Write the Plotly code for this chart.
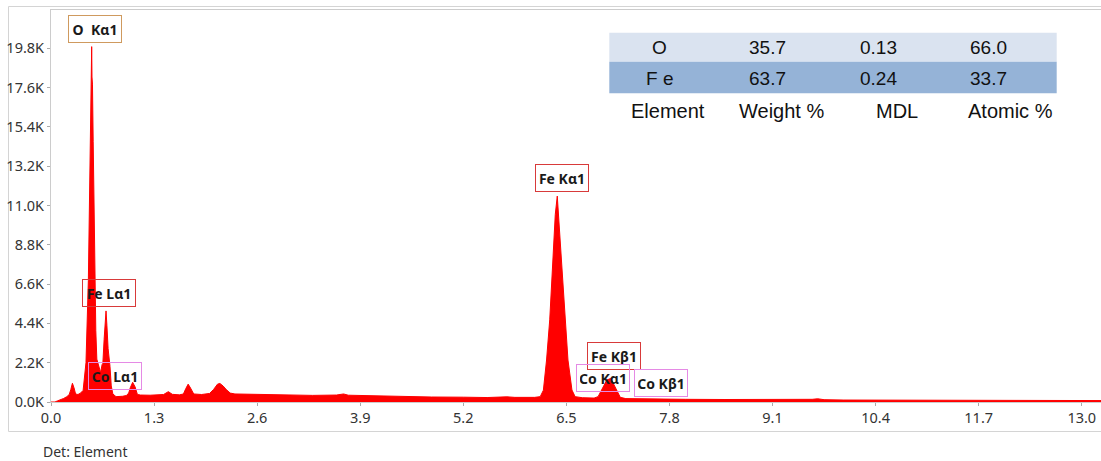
import plotly.graph_objects as go

# ---------------- data ----------------
energy_kev = [0.00, 0.05, 0.08, 0.12, 0.16, 0.20, 0.23, 0.25, 0.27, 0.29, 0.31, 0.34, 0.37,
              0.405, 0.441, 0.471, 0.481, 0.494, 0.503, 0.509, 0.513, 0.517, 0.523, 0.532, 0.545, 0.555,
              0.565, 0.578, 0.60, 0.625, 0.645, 0.652, 0.67, 0.685, 0.694, 0.705, 0.72, 0.744,
              0.76, 0.78, 0.82, 0.90, 0.95, 0.98, 1.00, 1.03, 1.06, 1.09, 1.13, 1.25, 1.37,
              1.42, 1.48, 1.53, 1.62, 1.67, 1.70, 1.73, 1.76, 1.80, 1.90, 2.00, 2.05, 2.10,
              2.13, 2.17, 2.21, 2.26, 2.32, 2.50, 2.80, 3.00, 3.30, 3.60, 3.69, 3.75, 4.00,
              4.40, 4.80, 5.20, 5.50, 5.75, 5.85, 6.10, 6.17, 6.21, 6.25, 6.29, 6.33, 6.36,
              6.385, 6.41, 6.44, 6.48, 6.52, 6.57, 6.61, 6.70, 6.85, 6.90, 6.965, 7.01, 7.06,
              7.11, 7.18, 7.25, 7.50, 8.00, 8.50, 9.00, 9.50, 9.60, 9.67, 9.75, 10.00, 11.00,
              12.00, 13.00, 13.30]
counts = [0, 0, 60, 120, 200, 300, 420, 700, 1050, 800, 450, 420, 490,
          650, 2200, 6800, 10200, 14600, 17800, 18200, 19900, 18200, 17800, 14600, 10200, 6800,
          4000, 2400, 2000, 1650, 2100, 2000, 3500, 4800, 5100, 4300, 3000, 2000,
          900, 450, 300, 320, 360, 500, 800, 1100, 850, 420, 390, 380, 390,
          420, 580, 430, 400, 450, 750, 1000, 780, 450, 420, 480, 700, 1000,
          1040, 900, 700, 500, 450, 430, 400, 380, 370, 390, 450, 380, 350,
          310, 280, 270, 250, 290, 260, 260, 300, 660, 2350, 4600, 7950, 10500,
          11530, 9800, 7400, 4600, 2350, 670, 300, 240, 220, 300, 860, 1230, 1320,
          860, 260, 190, 170, 150, 140, 130, 120, 150, 180, 130, 110, 100,
          90, 80, 80]

x_tick_vals = [0.0, 1.3, 2.6, 3.9, 5.2, 6.5, 7.8, 9.1, 10.4, 11.7, 13.0]
x_tick_text = ["0.0", "1.3", "2.6", "3.9", "5.2", "6.5", "7.8", "9.1", "10.4", "11.7", "13.0"]
y_tick_vals = [0, 2200, 4400, 6600, 8800, 11000, 13200, 15400, 17600, 19800]
y_tick_text = ["0.0K", "2.2K", "4.4K", "6.6K", "8.8K", "11.0K", "13.2K", "15.4K", "17.6K", "19.8K"]

elements = ["O", "F e"]
weight_pct = ["35.7", "63.7"]
mdl = ["0.13", "0.24"]
atomic_pct = ["66.0", "33.7"]
table_headers = ["Element", "Weight %", "MDL", "Atomic %"]

peak_names = ["O  K\u03b11", "Fe K\u03b11", "Fe L\u03b11", "Co L\u03b11", "Fe K\u03b21", "Co K\u03b11", "Co K\u03b21"]

# ---------------- layout constants ----------------
W, H = 1101, 461
ML, MR, MT, MB = 51, 0, 10, 59
PW, PH = W - ML - MR, H - MT - MB
X_MAX = PW / 79.29
Y_MAX = 21950


def pxp(x):
    return (x - ML) / PW


def pyp(y):
    return (H - MB - y) / PH


label_pos = [(0.559, 20860), (6.441, 12555), (0.734, 6104), (0.807, 1439),
             (7.097, 2559), (6.968, 1372), (7.691, 1047)]
label_border = ["#cf9a5e", "#d83a3a", "#d83a3a", "#e58ae5", "#d83a3a", "#e58ae5", "#e58ae5"]

fig = go.Figure()
fig.add_trace(go.Scatter(x=energy_kev, y=counts, mode="lines", fill="tozeroy",
                         line=dict(color="#ff0000", width=1), fillcolor="#ff0000",
                         hoverinfo="skip", showlegend=False))

annotations = []
for name, (lx, ly), bc in zip(peak_names, label_pos, label_border):
    annotations.append(dict(x=lx, y=ly, xref="x", yref="y", text=name, showarrow=False,
                            xanchor="center", yanchor="middle", width=46, height=20,
                            borderpad=3, borderwidth=1, bordercolor=bc,
                            font=dict(family="Noto Sans", size=14, color="#1a1a1a", weight="bold")))

# table
col_data_x = [659, 767, 878, 988]
col_head_x = [667.5, 781.7, 897, 1010.8]
row_y = [47.5, 79]
rows = [elements, weight_pct, mdl, atomic_pct]
for ci, col in enumerate(rows):
    for ri, val in enumerate(col):
        annotations.append(dict(x=pxp(col_data_x[ci]), y=pyp(row_y[ri]), xref="paper", yref="paper",
                                text=val, showarrow=False, xanchor="center", yanchor="middle",
                                font=dict(family="Liberation Sans", size=19, color="#111111")))
for ci, h in enumerate(table_headers):
    annotations.append(dict(x=pxp(col_head_x[ci]), y=pyp(111), xref="paper", yref="paper",
                            text=h, showarrow=False, xanchor="center", yanchor="middle",
                            font=dict(family="Liberation Sans", size=20, color="#111111")))

annotations.append(dict(x=pxp(41), y=pyp(451), xref="paper", yref="paper", text="Det: Element",
                        showarrow=False, xanchor="left", yanchor="middle",
                        font=dict(family="Noto Sans", size=14, color="#333333")))

shapes = [
    dict(type="rect", xref="paper", yref="paper", x0=pxp(609.3), x1=pxp(1056.7),
         y0=pyp(61.7), y1=pyp(32.7), fillcolor="#dae3f0", line=dict(width=0), layer="below"),
    dict(type="rect", xref="paper", yref="paper", x0=pxp(609.3), x1=pxp(1056.7),
         y0=pyp(93.3), y1=pyp(61.7), fillcolor="#95b3d7", line=dict(width=0), layer="below"),
    dict(type="rect", xref="paper", yref="paper", x0=pxp(8.5), x1=pxp(1120),
         y0=pyp(431.5), y1=pyp(6.5), line=dict(color="#d4d4d4", width=1), layer="below"),
]

tick_font = dict(family="Noto Sans", size=14.5, color="#333333")
fig.update_layout(
    width=W, height=H,
    margin=dict(l=ML, r=MR, t=MT, b=MB, pad=0),
    paper_bgcolor="white", plot_bgcolor="white",
    annotations=annotations, shapes=shapes,
    xaxis=dict(range=[0, X_MAX], tickvals=x_tick_vals, ticktext=x_tick_text,
               showgrid=False, zeroline=False, showline=True, linecolor="#cccccc",
               linewidth=1, mirror=True, ticks="outside", ticklen=3, tickcolor="#aaaaaa",
               tickfont=tick_font, fixedrange=True),
    yaxis=dict(range=[0, Y_MAX], tickvals=y_tick_vals, ticktext=y_tick_text,
               showgrid=False, zeroline=False, showline=True, linecolor="#cccccc",
               linewidth=1, ticks="outside", ticklen=3, tickcolor="#aaaaaa",
               tickfont=tick_font, fixedrange=True),
)

fig.write_html("out.html", config={"displayModeBar": False})
